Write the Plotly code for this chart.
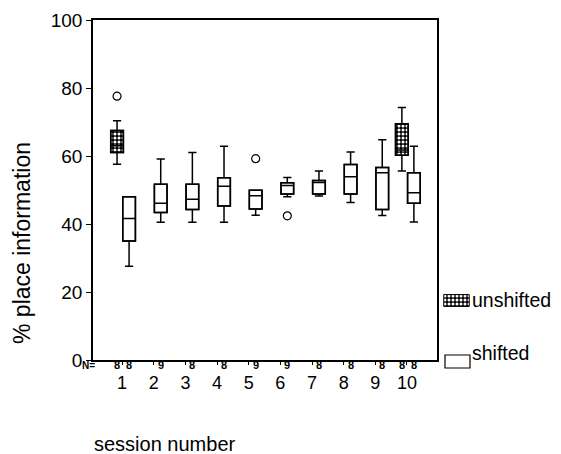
import plotly.graph_objects as go

# ---------------- data ----------------
sessions = [1, 2, 3, 4, 5, 6, 7, 8, 9, 10]
session_labels = ["1", "2", "3", "4", "5", "6", "7", "8", "9", "10"]

# unshifted (only sessions 1 and 10)
unsh_sessions = [1, 10]
unsh_low = [57.6, 55.6]
unsh_q1 = [61.0, 60.2]
unsh_med = [63.0, 61.8]
unsh_q3 = [67.5, 69.5]
unsh_high = [70.4, 74.3]
unsh_n = [8, 8]
unsh_out_sessions = [1]
unsh_out_values = [77.6]

# shifted (all sessions)
sh_low = [27.6, 40.5, 40.5, 40.5, 42.6, 48.0, 48.2, 46.3, 42.5, 40.6]
sh_q1 = [35.0, 43.4, 44.3, 45.3, 44.4, 48.8, 48.8, 48.8, 44.3, 46.1]
sh_med = [41.6, 46.1, 47.3, 51.1, 48.3, 51.3, 52.2, 53.9, 55.1, 49.2]
sh_q3 = [48.0, 51.7, 51.7, 53.6, 49.9, 52.1, 52.8, 57.5, 56.6, 55.1]
sh_high = [48.0, 59.1, 61.0, 62.9, 49.9, 53.7, 55.6, 61.2, 64.8, 62.9]
sh_n = [8, 9, 8, 8, 9, 9, 8, 8, 8, 8]
sh_out_sessions = [5, 6]
sh_out_values = [59.2, 42.4]

y_ticks = [0, 20, 40, 60, 80, 100]
series_names = ["unshifted", "shifted"]

# ---------------- style / layout helpers ----------------
OFF_U = -0.16
OFF_S = 0.22
BOX_W = 0.40
FONT = "Liberation Sans, Arial, sans-serif"
LW = 1.5

# page is rendered with an 8px body margin; paper spans page x 93..561, y 20..360
PX0, PX1, PY0, PY1 = 93.0, 561.0, 20.0, 360.0
def px(x):
    return (x - PX0) / (PX1 - PX0)
def py(y):
    return (PY1 - y) / (PY1 - PY0)

PATTERN = dict(shape=".", fgcolor="white", bgcolor="black",
               size=4, solidity=0.45, fillmode="replace")

xu = [s + OFF_U for s in unsh_sessions]
xs = [s + OFF_S for s in sessions]

fig = go.Figure()

# box bodies as bars (to allow the hatch pattern)
fig.add_trace(go.Bar(
    x=xu, base=unsh_q1, y=[b - a for a, b in zip(unsh_q1, unsh_q3)],
    width=BOX_W, name=series_names[0], showlegend=False,
    marker=dict(color="black", pattern=PATTERN,
                line=dict(color="black", width=LW)),
    hoverinfo="skip",
))
fig.add_trace(go.Bar(
    x=xs, base=sh_q1, y=[b - a for a, b in zip(sh_q1, sh_q3)],
    width=BOX_W, name=series_names[1], showlegend=False,
    marker=dict(color="white", line=dict(color="black", width=LW)),
    hoverinfo="skip",
))

# boxes (outline, whiskers, median)
fig.add_trace(go.Box(
    x=xu, q1=unsh_q1, median=unsh_med, q3=unsh_q3,
    lowerfence=unsh_low, upperfence=unsh_high,
    width=BOX_W, whiskerwidth=0.65, boxpoints=False,
    fillcolor="rgba(0,0,0,0)", line=dict(color="black", width=LW),
    showlegend=False,
))
fig.add_trace(go.Box(
    x=xs, q1=sh_q1, median=sh_med, q3=sh_q3,
    lowerfence=sh_low, upperfence=sh_high,
    width=BOX_W, whiskerwidth=0.65, boxpoints=False,
    fillcolor="rgba(0,0,0,0)", line=dict(color="black", width=LW),
    showlegend=False,
))

# outliers
fig.add_trace(go.Scatter(
    x=[s + OFF_U for s in unsh_out_sessions], y=unsh_out_values,
    mode="markers", showlegend=False,
    marker=dict(symbol="circle-open", size=8, color="black", line=dict(width=1.2)),
))
fig.add_trace(go.Scatter(
    x=[s + OFF_S for s in sh_out_sessions], y=sh_out_values,
    mode="markers", showlegend=False,
    marker=dict(symbol="circle-open", size=8, color="black", line=dict(width=1.2)),
))

# legend swatch for the patterned series (tiny separate axis so the pattern shows)
fig.add_trace(go.Bar(
    x=[0.5], y=[1], width=[1], xaxis="x2", yaxis="y2", showlegend=False,
    marker=dict(color="black", pattern=PATTERN, line=dict(color="black", width=1)),
    hoverinfo="skip",
))

annotations = []
# N row
NY = py(365)
annotations.append(dict(x=px(88), xref="paper", y=NY, yref="paper",
                        text="<b>N=</b>", showarrow=False,
                        font=dict(family=FONT, size=10, color="black"),
                        xanchor="center", yanchor="middle"))
for s, n in zip(unsh_sessions, unsh_n):
    annotations.append(dict(x=s + OFF_U, xref="x", y=NY, yref="paper",
                            text=f"<b>{n}</b>", showarrow=False,
                            font=dict(family=FONT, size=11, color="black"),
                            xanchor="center", yanchor="middle"))
for s, n in zip(sessions, sh_n):
    annotations.append(dict(x=s + OFF_S, xref="x", y=NY, yref="paper",
                            text=f"<b>{n}</b>", showarrow=False,
                            font=dict(family=FONT, size=11, color="black"),
                            xanchor="center", yanchor="middle"))

# axis titles
annotations.append(dict(x=px(22), xref="paper", y=py(243), yref="paper",
                        text="% place information", textangle=-90,
                        showarrow=False, font=dict(family=FONT, size=23, color="black"),
                        xanchor="center", yanchor="middle"))
annotations.append(dict(x=px(165), xref="paper", y=py(444), yref="paper",
                        text="session number", showarrow=False,
                        font=dict(family=FONT, size=20, color="black"),
                        xanchor="center", yanchor="middle"))

# legend texts
annotations.append(dict(x=px(470), xref="paper", y=py(300), yref="paper",
                        text=series_names[0], showarrow=False,
                        font=dict(family=FONT, size=19.5, color="black"),
                        xanchor="left", yanchor="middle"))
annotations.append(dict(x=px(470), xref="paper", y=py(353), yref="paper",
                        text=series_names[1], showarrow=False,
                        font=dict(family=FONT, size=19.5, color="black"),
                        xanchor="left", yanchor="middle"))

shapes = [dict(type="rect", xref="paper", yref="paper",
               x0=px(445), x1=px(470), y0=py(368), y1=py(355),
               line=dict(color="black", width=1.2), fillcolor="white")]

fig.update_layout(
    width=553, height=446,
    margin=dict(l=85, r=0, t=12, b=94),
    paper_bgcolor="white", plot_bgcolor="white",
    barmode="overlay",
    font=dict(family=FONT, color="black"),
    annotations=annotations,
    shapes=shapes,
    showlegend=False,
    xaxis=dict(domain=[0, px(437)], range=[0.08, 10.95],
               tickvals=sessions, ticktext=session_labels,
               ticks="outside", ticklen=3, tickwidth=1, tickcolor="black",
               showline=True, linecolor="black", linewidth=1.5, mirror=True,
               showgrid=False, zeroline=False, ticklabelstandoff=3,
               tickfont=dict(family=FONT, size=18, color="black")),
    yaxis=dict(range=[0, 100], tickvals=y_ticks,
               ticks="outside", ticklen=5, tickwidth=1, tickcolor="black",
               showline=True, linecolor="black", linewidth=1.5, mirror=True,
               showgrid=False, zeroline=False,
               tickfont=dict(family=FONT, size=19, color="black")),
    xaxis2=dict(domain=[px(443), px(470)], range=[-0.03, 1.03], visible=False,
                anchor="y2", fixedrange=True),
    yaxis2=dict(domain=[py(307), py(294)], range=[-0.05, 1.05], visible=False,
                anchor="x2", fixedrange=True),
)

fig.write_html("out.html")
